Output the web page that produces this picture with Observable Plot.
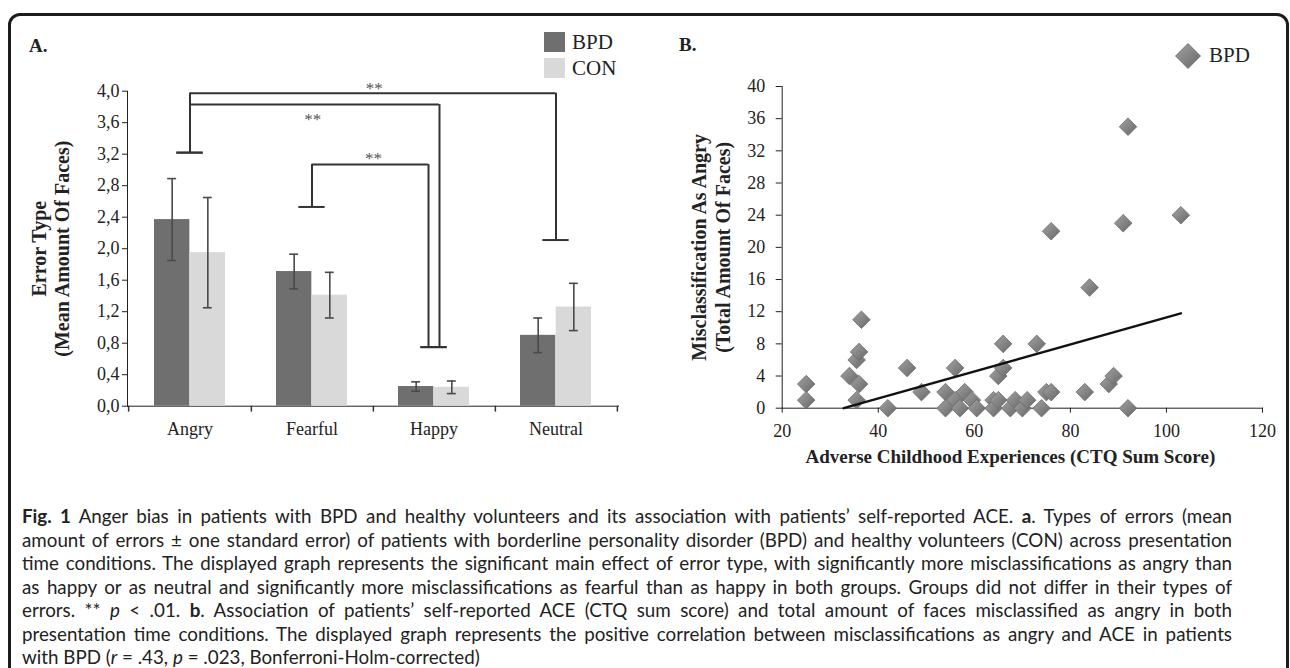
<!DOCTYPE html>
<html><head><meta charset="utf-8">
<script src="https://cdn.jsdelivr.net/npm/d3@7"></script>
<script src="https://cdn.jsdelivr.net/npm/@observablehq/plot@0.6"></script>
<style>
html,body{margin:0;padding:0;background:#fff;}
#root{position:relative;width:1290px;height:668px;overflow:hidden;background:#fff;}
.frame{position:absolute;left:8px;top:13px;width:1275px;height:740px;border:3px solid #1c1c1c;border-radius:12px;}
.abs{position:absolute;}
.serif{font-family:"Liberation Serif","Times New Roman",serif;color:#222;}
.panel{font-weight:bold;font-size:19px;}
.leg{font-size:21px;line-height:21px;}
.sw{position:absolute;width:21px;height:20px;}
.cap{position:absolute;left:22px;width:1210px;top:504px;font-family:Lato,"Open Sans",sans-serif;font-size:17px;line-height:23.5px;color:#222;}
.cap .j{text-align:justify;text-align-last:justify;}
.cap div{height:23.5px;overflow:visible;}
</style></head><body><div id="root">
<div class="frame"></div>
<div class="abs serif panel" style="left:29px;top:35px;">A.</div>
<div class="abs serif panel" style="left:679px;top:34px;">B.</div>
<div id="chartA" class="abs" style="left:0;top:0;"></div>
<div id="chartB" class="abs" style="left:640px;top:0;"></div>
<div id="legA"></div>
<div id="legB"></div>
<div class="cap">
<div class="j"><b>Fig. 1</b> Anger bias in patients with BPD and healthy volunteers and its association with patients’ self-reported ACE. <b>a</b>. Types of errors (mean</div>
<div class="j">amount of errors ± one standard error) of patients with borderline personality disorder (BPD) and healthy volunteers (CON) across presentation</div>
<div class="j">time conditions. The displayed graph represents the significant main effect of error type, with significantly more misclassifications as angry than</div>
<div class="j">as happy or as neutral and significantly more misclassifications as fearful than as happy in both groups. Groups did not differ in their types of</div>
<div class="j">errors. ** <i>p</i> &lt; .01. <b>b</b>. Association of patients’ self-reported ACE (CTQ sum score) and total amount of faces misclassified as angry in both</div>
<div class="j">presentation time conditions. The displayed graph represents the positive correlation between misclassifications as angry and ACE in patients</div>
<div class="last">with BPD (<i>r</i> = .43, <i>p</i> = .023, Bonferroni-Holm-corrected)</div>
</div>
</div>
<script>
// ---------- Panel A data ----------
const categories = ["Angry", "Fearful", "Happy", "Neutral"];
const groups = ["BPD", "CON"];
const bpdMean = [2.37, 1.71, 0.25, 0.90];
const bpdSE = [0.52, 0.22, 0.06, 0.22];
const conMean = [1.95, 1.41, 0.24, 1.26];
const conSE = [0.70, 0.29, 0.08, 0.30];
const yTicksA = [0, 0.4, 0.8, 1.2, 1.6, 2.0, 2.4, 2.8, 3.2, 3.6, 4.0];
// significance brackets
const sigFrom = ["Angry", "Angry", "Fearful"];
const sigTo = ["Neutral", "Happy", "Happy"];
const sigTop = [3.975, 3.83, 3.07];
const sigFromEnd = [3.22, 3.22, 2.53];
const sigToEnd = [2.11, 0.75, 0.75];
const sigLabel = ["**", "**", "**"];
const sigLabelY = [4.09, 3.69, 3.19];

// ---------- Panel B data ----------
const ctqScore = [25, 25, 34, 35.5, 36, 36.5, 36, 35.5, 42, 46, 49, 54, 54, 56, 56, 57, 58, 59.5, 60.5, 64, 64, 65, 65, 66, 66, 67.5, 68.5, 70, 71, 73, 74, 75, 76, 76, 83, 84, 88, 89, 91, 92, 92, 103];
const angryCount = [3, 1, 4, 6, 7, 11, 3, 1, 0, 5, 2, 2, 0, 5, 1, 0, 2, 1, 0, 1, 0, 1, 4, 5, 8, 0, 1, 0, 1, 8, 0, 2, 2, 22, 2, 15, 3, 4, 23, 35, 0, 24];
const trendX = [32.8, 103];
const trendY = [0, 11.8];
const xTicksB = [20, 40, 60, 80, 100, 120];
const yTicksB = [0, 4, 8, 12, 16, 20, 24, 28, 32, 36, 40];

const colors = {BPD: "#6f6f6f", CON: "#d9d9d9"};
const serif = '"Liberation Serif","Times New Roman",serif';

// ---------- Panel A ----------
const A = {w: 640, h: 470, ml: 127, mr: 22, mt: 90.7, mb: 64.3};
const padIn = 0.419;
const stepA = (A.w - A.ml - A.mr) / categories.length;
const bw = stepA * (1 - padIn);
const rows = categories.flatMap((c, i) => [
  {cat: c, group: "BPD", mean: bpdMean[i], se: bpdSE[i]},
  {cat: c, group: "CON", mean: conMean[i], se: conSE[i]}
]);
const bpd = rows.filter(d => d.group === "BPD");
const con = rows.filter(d => d.group === "CON");
const capHalf = 4.6;
const errStroke = "#4a4a4a";
const brStroke = "#333";
const bracketCap = 13.3;
const toOffsets = [0, 5.5, -5.5];

const brMarks = [];
sigFrom.forEach((f, k) => {
  const t = sigTo[k];
  const off = toOffsets[k];
  const d = [k];
  brMarks.push(
    Plot.ruleY(d, {x1: () => f, x2: () => t, y: () => sigTop[k], insetLeft: bw / 2, insetRight: bw / 2 - off, stroke: brStroke, strokeWidth: 2}),
    Plot.ruleX(d, {x: () => f, y1: () => sigFromEnd[k], y2: () => sigTop[k], stroke: brStroke, strokeWidth: 2}),
    Plot.ruleX(d, {x: () => t, y1: () => sigToEnd[k], y2: () => sigTop[k], dx: off, stroke: brStroke, strokeWidth: 2}),
    Plot.tickY(d, {x: () => f, y: () => sigFromEnd[k], insetLeft: bw / 2 - bracketCap, insetRight: bw / 2 - bracketCap, stroke: brStroke, strokeWidth: 2}),
    Plot.tickY(d, {x: () => t, y: () => sigToEnd[k], insetLeft: bw / 2 - bracketCap, insetRight: bw / 2 - bracketCap, stroke: brStroke, strokeWidth: 2}),
    Plot.text(d, {x: () => f, y: () => sigLabelY[k], text: () => sigLabel[k],
      dx: (categories.indexOf(t) - categories.indexOf(f)) * stepA / 2, dy: 4,
      fontSize: 17, fill: "#555", fontFamily: serif})
  );
});

const plotA = Plot.plot({
  width: A.w, height: A.h,
  marginLeft: A.ml, marginRight: A.mr, marginTop: A.mt, marginBottom: A.mb,
  style: {fontFamily: serif, fontSize: "18px", color: "#222", background: "transparent", overflow: "visible"},
  x: {domain: categories, paddingInner: padIn, paddingOuter: padIn / 2, tickSize: 0, tickPadding: 16, line: true, label: null},
  y: {domain: [0, 4], ticks: yTicksA, tickSize: 5, tickPadding: 3, line: true, label: null,
      tickFormat: d => d.toFixed(1).replace(".", ",")},
  marks: [
    Plot.barY(bpd, {x: "cat", y: "mean", fill: colors.BPD, insetRight: bw / 2}),
    Plot.barY(con, {x: "cat", y: "mean", fill: colors.CON, insetLeft: bw / 2}),
    Plot.ruleX(bpd, {x: "cat", y1: d => d.mean - d.se, y2: d => d.mean + d.se, dx: -bw / 4, stroke: errStroke, strokeWidth: 1.6}),
    Plot.ruleX(con, {x: "cat", y1: d => d.mean - d.se, y2: d => d.mean + d.se, dx: bw / 4, stroke: errStroke, strokeWidth: 1.6}),
    Plot.tickY(bpd, {x: "cat", y: d => d.mean + d.se, insetLeft: bw / 4 - capHalf, insetRight: 3 * bw / 4 - capHalf, stroke: errStroke, strokeWidth: 1.6}),
    Plot.tickY(bpd, {x: "cat", y: d => d.mean - d.se, insetLeft: bw / 4 - capHalf, insetRight: 3 * bw / 4 - capHalf, stroke: errStroke, strokeWidth: 1.6}),
    Plot.tickY(con, {x: "cat", y: d => d.mean + d.se, insetLeft: 3 * bw / 4 - capHalf, insetRight: bw / 4 - capHalf, stroke: errStroke, strokeWidth: 1.6}),
    Plot.tickY(con, {x: "cat", y: d => d.mean - d.se, insetLeft: 3 * bw / 4 - capHalf, insetRight: bw / 4 - capHalf, stroke: errStroke, strokeWidth: 1.6}),
    // category boundary ticks below the axis
    Plot.ruleX(categories, {x: d => d, dx: stepA / 2, y1: 0, y2: -0.075, stroke: "#333", strokeWidth: 1.5}),
    Plot.ruleX([categories[0]], {x: d => d, dx: -stepA / 2, y1: 0, y2: -0.075, stroke: "#333", strokeWidth: 1.5}),
    ...brMarks,
    Plot.text(["Error Type\n(Mean Amount Of Faces)"], {frameAnchor: "left", text: d => d, rotate: -90, dx: -77.5,
      textAnchor: "middle", lineAnchor: "middle",
      fontSize: 20, fontWeight: "bold", lineHeight: 1.15, fill: "#222", fontFamily: serif})
  ]
});
document.getElementById("chartA").appendChild(plotA);

// legend A
const legA = document.getElementById("legA");
groups.forEach((g, i) => {
  legA.insertAdjacentHTML("beforeend",
    `<div class="sw" style="left:544px;top:${32 + i * 26}px;background:${colors[g]}"></div>` +
    `<div class="abs serif leg" style="left:572px;top:${32 + i * 26}px;">${g}</div>`);
});

// ---------- Panel B ----------
const B = {w: 650, h: 470, ml: 141.7, mr: 28, mt: 86, mb: 62.3};
const scatter = ctqScore.map((x, i) => ({ctq: x, angry: angryCount[i]}));
const trend = trendX.map((x, i) => ({ctq: x, angry: trendY[i]}));
const diamond = {
  draw(ctx, size) {
    const h = Math.sqrt(size / 2);
    ctx.moveTo(0, -h); ctx.lineTo(h, 0); ctx.lineTo(0, h); ctx.lineTo(-h, 0); ctx.closePath();
  }
};
const plotB = Plot.plot({
  width: B.w, height: B.h,
  marginLeft: B.ml, marginRight: B.mr, marginTop: B.mt, marginBottom: B.mb,
  style: {fontFamily: serif, fontSize: "18px", color: "#222", background: "transparent", overflow: "visible"},
  x: {domain: [20, 120], ticks: xTicksB, tickSize: 5, tickPadding: 11, line: true, label: null},
  y: {domain: [0, 40], ticks: yTicksB, tickSize: 6, tickPadding: 11, line: true, label: null},
  marks: [
    Plot.dot(scatter, {x: "ctq", y: "angry", symbol: diamond, r: 7, fill: "url(#dgrad)", stroke: "#6a6a6a", strokeWidth: 0.8}),
    Plot.line(trend, {x: "ctq", y: "angry", stroke: "#111", strokeWidth: 2.4}),
    Plot.text(["Adverse Childhood Experiences (CTQ Sum Score)"], {frameAnchor: "bottom", text: d => d, dy: 49, dx: -12,
      textAnchor: "middle", lineAnchor: "middle",
      fontSize: 19, fontWeight: "bold", fill: "#222", fontFamily: serif}),
    Plot.text(["Misclassification As Angry\n(Total Amount Of Faces)"], {frameAnchor: "left", text: d => d, rotate: -90, dx: -71.7,
      textAnchor: "middle", lineAnchor: "middle",
      fontSize: 20, fontWeight: "bold", lineHeight: 1.2, fill: "#222", fontFamily: serif})
  ]
});
plotB.insertAdjacentHTML("afterbegin",
  '<defs><linearGradient id="dgrad" x1="0" y1="0" x2="1" y2="1">' +
  '<stop offset="0" stop-color="#a3a3a3"/><stop offset="0.5" stop-color="#858585"/><stop offset="1" stop-color="#666"/></linearGradient></defs>');
document.getElementById("chartB").appendChild(plotB);

// legend B
document.getElementById("legB").insertAdjacentHTML("beforeend",
  `<svg class="abs" style="left:1175px;top:43px;" width="26" height="26"><defs><linearGradient id="dgrad2" x1="0" y1="0" x2="1" y2="1"><stop offset="0" stop-color="#a3a3a3"/><stop offset="0.5" stop-color="#858585"/><stop offset="1" stop-color="#666"/></linearGradient></defs><polygon points="13,0.5 25.5,13 13,25.5 0.5,13" fill="url(#dgrad2)" stroke="#6a6a6a" stroke-width="0.8"/></svg>` +
  `<div class="abs serif leg" style="left:1209px;top:45px;">BPD</div>`);

// caption sizing: fit the last line to its width in the reference, without letting any justified line overflow
(function fitCaption() {
  const cap = document.querySelector(".cap");
  const lines = Array.from(cap.children);
  const measure = el => {
    const s = document.createElement("span");
    s.style.whiteSpace = "nowrap";
    s.style.position = "absolute";
    s.style.visibility = "hidden";
    s.innerHTML = el.innerHTML;
    cap.appendChild(s);
    const w = s.getBoundingClientRect().width;
    s.remove();
    return w;
  };
  const base = 17;
  const lastW = measure(lines[lines.length - 1]);
  let fs = base * 458 / lastW;
  const maxW = Math.max(...lines.slice(0, -1).map(measure));
  fs = Math.min(fs, base * 1205 / maxW);
  cap.style.fontSize = fs.toFixed(2) + "px";
})();
</script>
</body></html>
